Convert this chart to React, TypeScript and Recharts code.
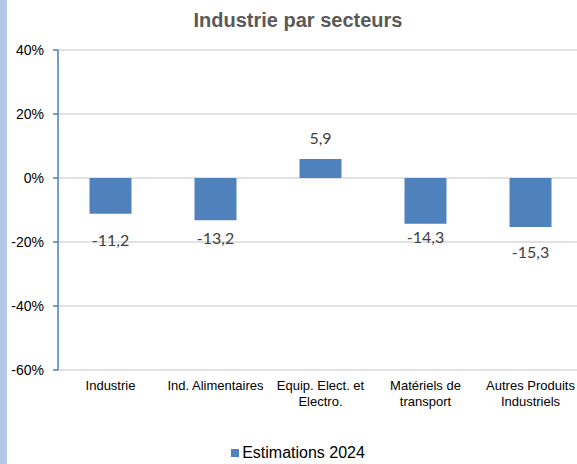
import React from 'react';
import { BarChart, Bar, XAxis, YAxis, CartesianGrid, LabelList, Text } from 'recharts';

const CATEGORIES = [
  'Industrie',
  'Ind. Alimentaires',
  'Equip. Elect. et Electro.',
  'Matériels de transport',
  'Autres Produits Industriels',
];
const ESTIMATIONS_2024 = [-11.2, -13.2, 5.9, -14.3, -15.3];
const Y_TICKS = [-60, -40, -20, 0, 20, 40];

const SERIES_NAME = 'Estimations 2024';
const BAR_COLOR = '#4f81bd';
// hand-placed data labels in the original, nudged per bar
const LABEL_NUDGE = [26, 17, -22, 13, 25];

const data = CATEGORIES.map((name, i) => ({ name, value: ESTIMATIONS_2024[i] }));

const CategoryTick = (props: any) => {
  const { x, y, payload } = props;
  return (
    <Text
      x={x}
      y={y + 11}
      width={120}
      textAnchor="middle"
      verticalAnchor="start"
      lineHeight={16}
      style={{ fontFamily: 'Liberation Sans, Arial, sans-serif', fontSize: 13, fill: '#000' }}
    >
      {payload.value}
    </Text>
  );
};

const ValueLabel = (props: any) => {
  const { x, y, width, height, value, index } = props;
  const top = Math.min(y, y + height);
  const bottom = Math.max(y, y + height);
  const end = value < 0 ? bottom : top;
  return (
    <text
      x={x + width / 2}
      y={end + LABEL_NUDGE[index]}
      textAnchor="middle"
      dominantBaseline="central"
      style={{ fontFamily: 'Lato, sans-serif', fontSize: 16, fill: '#404040' }}
    >
      {value.toFixed(1).replace('.', ',')}
    </text>
  );
};

export default function App() {
  return (
    <div
      style={{
        position: 'absolute',
        left: 0,
        top: 0,
        width: 577,
        height: 464,
        overflow: 'hidden',
        background: '#fff',
      }}
    >
      <div style={{ position: 'absolute', left: 0, top: 0, width: 7, height: 464, background: '#b4c7e7' }} />
      <div
        style={{
          position: 'absolute',
          left: 0,
          top: 8,
          width: 596,
          textAlign: 'center',
          fontFamily: 'Liberation Sans, Arial, sans-serif',
          fontWeight: 700,
          fontSize: 20,
          color: '#595959',
          lineHeight: '24px',
        }}
      >
        Industrie par secteurs
      </div>
      <div style={{ position: 'absolute', left: 0, top: 0 }}>
        <BarChart
          width={596}
          height={464}
          data={data}
          margin={{ top: 50, right: 13, bottom: 0, left: 0 }}
          barCategoryGap="30%"
        >
          <CartesianGrid vertical={false} stroke="#d9d9d9" strokeWidth={1.5} />
          <XAxis
            dataKey="name"
            axisLine={false}
            tickLine={false}
            tickSize={0}
            tickMargin={0}
            height={94}
            interval={0}
            tick={<CategoryTick />}
          />
          <YAxis
            width={58}
            domain={[-60, 40]}
            ticks={Y_TICKS}
            interval={0}
            tickFormatter={(v) => `${v}%`}
            axisLine={{ stroke: '#4a7ebb', strokeWidth: 1.5 }}
            tickLine={{ stroke: '#4a7ebb', strokeWidth: 1.5 }}
            tickSize={5}
            tickMargin={9}
            tick={{ fontFamily: 'Liberation Sans, Arial, sans-serif', fontSize: 14, fill: '#000' }}
          />
          <Bar dataKey="value" name={SERIES_NAME} fill={BAR_COLOR} isAnimationActive={false}>
            <LabelList dataKey="value" content={<ValueLabel />} />
          </Bar>
        </BarChart>
      </div>
      <div
        style={{
          position: 'absolute',
          left: 0,
          top: 443,
          width: 596,
          display: 'flex',
          justifyContent: 'center',
          alignItems: 'center',
          fontFamily: 'Liberation Sans, Arial, sans-serif',
          fontSize: 16,
          color: '#000',
          lineHeight: '20px',
        }}
      >
        <span style={{ display: 'inline-block', width: 8, height: 8, background: BAR_COLOR, marginRight: 3 }} />
        {SERIES_NAME}
      </div>
    </div>
  );
}
